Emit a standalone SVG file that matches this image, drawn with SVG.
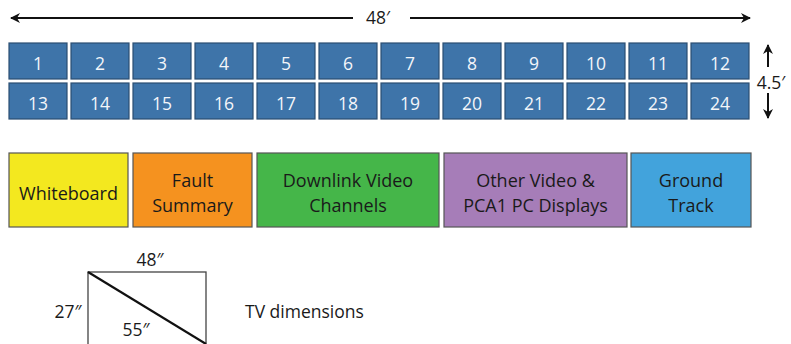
<svg xmlns="http://www.w3.org/2000/svg" width="791" height="344" viewBox="0 0 791 344">
<defs>
<style>
.t{fill:#3e74a9;stroke:#2b4e72;stroke-width:1.2}
.tn{font-family:"Open Sans","Liberation Sans",sans-serif;font-size:17.5px;fill:#f4f6fa;text-anchor:middle}
.b{stroke:#555;stroke-width:1.2}
.bl{font-family:"Open Sans","Liberation Sans",sans-serif;font-size:18px;fill:#1a1a1a;text-anchor:middle}
.lb{font-family:"Open Sans","Liberation Sans",sans-serif;font-size:17.5px;fill:#1a1a1a}
.ln{stroke:#111;stroke-width:2;fill:none}
</style>
<marker id="ah" viewBox="0 0 10 10" refX="9" refY="5" markerWidth="5" markerHeight="5" orient="auto-start-reverse" markerUnits="strokeWidth">
<path d="M0,0 L10,5 L0,10 L3,5 Z" fill="#111"/>
</marker>
</defs>
<g id="connectors">
<line class="ln" x1="353" y1="18" x2="11" y2="18" marker-end="url(#ah)"/>
<line class="ln" x1="410" y1="18" x2="750" y2="18" marker-end="url(#ah)"/>
<line class="ln" x1="768" y1="67" x2="768" y2="45" marker-end="url(#ah)"/>
<line class="ln" x1="768" y1="93" x2="768" y2="118" marker-end="url(#ah)"/>
</g>
<g id="label-48ft"><text class="lb" x="378" y="24" text-anchor="middle">48′</text></g>
<g id="label-45ft"><text class="lb" x="771" y="89" text-anchor="middle">4.5′</text></g>
<g id="tiles">
<g id="tile1"><rect class="t" x="9" y="43" width="58" height="36"/><text class="tn" x="38" y="70">1</text></g>
<g id="tile2"><rect class="t" x="71" y="43" width="58" height="36"/><text class="tn" x="100" y="70">2</text></g>
<g id="tile3"><rect class="t" x="133" y="43" width="58" height="36"/><text class="tn" x="162" y="70">3</text></g>
<g id="tile4"><rect class="t" x="195" y="43" width="58" height="36"/><text class="tn" x="224" y="70">4</text></g>
<g id="tile5"><rect class="t" x="257" y="43" width="58" height="36"/><text class="tn" x="286" y="70">5</text></g>
<g id="tile6"><rect class="t" x="319" y="43" width="58" height="36"/><text class="tn" x="348" y="70">6</text></g>
<g id="tile7"><rect class="t" x="381" y="43" width="58" height="36"/><text class="tn" x="410" y="70">7</text></g>
<g id="tile8"><rect class="t" x="443" y="43" width="58" height="36"/><text class="tn" x="472" y="70">8</text></g>
<g id="tile9"><rect class="t" x="505" y="43" width="58" height="36"/><text class="tn" x="534" y="70">9</text></g>
<g id="tile10"><rect class="t" x="567" y="43" width="58" height="36"/><text class="tn" x="596" y="70">10</text></g>
<g id="tile11"><rect class="t" x="629" y="43" width="58" height="36"/><text class="tn" x="658" y="70">11</text></g>
<g id="tile12"><rect class="t" x="691" y="43" width="58" height="36"/><text class="tn" x="720" y="70">12</text></g>
<g id="tile13"><rect class="t" x="9" y="83" width="58" height="36"/><text class="tn" x="38" y="110">13</text></g>
<g id="tile14"><rect class="t" x="71" y="83" width="58" height="36"/><text class="tn" x="100" y="110">14</text></g>
<g id="tile15"><rect class="t" x="133" y="83" width="58" height="36"/><text class="tn" x="162" y="110">15</text></g>
<g id="tile16"><rect class="t" x="195" y="83" width="58" height="36"/><text class="tn" x="224" y="110">16</text></g>
<g id="tile17"><rect class="t" x="257" y="83" width="58" height="36"/><text class="tn" x="286" y="110">17</text></g>
<g id="tile18"><rect class="t" x="319" y="83" width="58" height="36"/><text class="tn" x="348" y="110">18</text></g>
<g id="tile19"><rect class="t" x="381" y="83" width="58" height="36"/><text class="tn" x="410" y="110">19</text></g>
<g id="tile20"><rect class="t" x="443" y="83" width="58" height="36"/><text class="tn" x="472" y="110">20</text></g>
<g id="tile21"><rect class="t" x="505" y="83" width="58" height="36"/><text class="tn" x="534" y="110">21</text></g>
<g id="tile22"><rect class="t" x="567" y="83" width="58" height="36"/><text class="tn" x="596" y="110">22</text></g>
<g id="tile23"><rect class="t" x="629" y="83" width="58" height="36"/><text class="tn" x="658" y="110">23</text></g>
<g id="tile24"><rect class="t" x="691" y="83" width="58" height="36"/><text class="tn" x="720" y="110">24</text></g>
</g>
<g id="whiteboard"><rect class="b" x="9" y="153" width="119" height="74" fill="#f3e81f"/><text class="bl" x="68.5" y="200">Whiteboard</text></g>
<g id="fault-summary"><rect class="b" x="133" y="153" width="119" height="74" fill="#f5921f"/><text class="bl" x="192.5" y="187">Fault</text><text class="bl" x="192.5" y="212">Summary</text></g>
<g id="downlink-video"><rect class="b" x="257" y="153" width="182" height="74" fill="#45b649"/><text class="bl" x="348" y="187">Downlink Video</text><text class="bl" x="348" y="212">Channels</text></g>
<g id="other-video"><rect class="b" x="444" y="153" width="183" height="74" fill="#a67db8"/><text class="bl" x="535.5" y="187">Other Video &amp;</text><text class="bl" x="535.5" y="212">PCA1 PC Displays</text></g>
<g id="ground-track"><rect class="b" x="631" y="153" width="120" height="74" fill="#42a3dc"/><text class="bl" x="691" y="187">Ground</text><text class="bl" x="691" y="212">Track</text></g>
<g id="tv-dimensions">
<rect x="88" y="272" width="118" height="80" fill="none" stroke="#444" stroke-width="1.3"/>
<line x1="88" y1="272" x2="206" y2="344" stroke="#111" stroke-width="2.2"/>
<text class="lb" x="150" y="266" text-anchor="middle">48″</text>
<text class="lb" x="68" y="318" text-anchor="middle">27″</text>
<text class="lb" x="136" y="336" text-anchor="middle">55″</text>
<text class="lb" x="245" y="318">TV dimensions</text>
</g>
</svg>
